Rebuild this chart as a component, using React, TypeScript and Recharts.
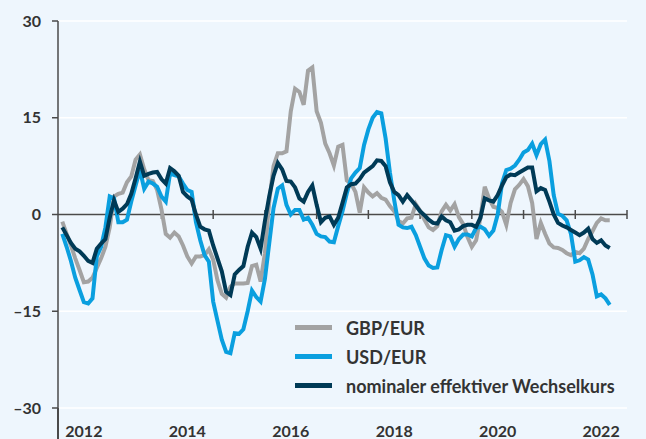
import { LineChart, Line, XAxis, YAxis, CartesianGrid, ReferenceLine, Legend } from "recharts";

// monthly changes in %, Jan 2012 - Aug 2022
const gbp = [
  -1.1, -3.0, -4.8, -6.8, -8.6, -10.5, -10.4, -9.8, -8.3, -6.8, -5.0, -2.0,
  2.8, 3.2, 3.4, 5.0, 5.9, 8.5, 9.3, 7.0, 5.3, 5.2, 3.8, 0.8,
  -3.0, -3.6, -2.8, -3.4, -4.8, -6.5, -7.6, -6.5, -6.5, -6.3, -5.4, -7.0,
  -10.2, -12.3, -12.9, -11.2, -10.7, -10.7, -10.7, -10.6, -8.0, -7.8, -10.4, -6.0,
  2.0, 7.5, 9.5, 9.5, 9.8, 16.0, 19.5, 19.0, 17.0, 22.3, 22.8, 16.0,
  14.2, 11.0, 9.5, 7.6, 10.5, 10.8, 5.3, 4.8, 3.5, 0.3, 4.2, 3.4,
  2.8, 3.3, 2.6, 2.3, 1.3, 0.5, -1.0, -1.4, -0.6, -0.5, 1.6, 0.6,
  -0.8, -2.0, -2.4, -1.8, 0.5, 1.5, 0.6, 1.6, -0.4, -1.5, -3.5, -5.0,
  -4.0, -0.5, 4.3, 2.5, 1.2, 1.0, 0.4, -1.6, 1.8, 3.9, 4.6, 5.5,
  4.4, 1.8, -3.8, -1.3, -3.0, -4.5, -5.1, -5.2, -5.5, -6.0, -6.3, -5.8,
  -6.0, -5.3, -3.8, -2.6, -1.3, -0.6, -0.9, -0.9,
];

const usd = [
  -3.0, -5.0, -7.2, -9.8, -11.7, -13.6, -13.8, -13.0, -6.5, -5.0, -2.0, 2.8,
  2.5, -1.2, -1.2, -0.8, 2.0, 4.5, 6.9, 4.0, 5.1, 4.8, 4.3, 2.8,
  2.0, 6.4, 6.1, 5.9, 4.8, 3.8, 3.5, -1.2, -4.0, -6.3, -7.3, -13.5,
  -16.5, -19.4, -21.3, -21.5, -18.4, -18.5, -17.8, -15.0, -11.8, -12.8, -13.5, -10.0,
  -4.5, 1.0, 4.0, 4.5, 1.5, 0.0, 0.7, 0.7, -0.8, -0.5, -1.6, -3.0,
  -3.4, -3.5, -4.2, -4.3, -1.8, 0.5, 3.3, 5.6, 6.5, 7.2, 10.8, 13.2,
  15.0, 15.9, 15.7, 11.8, 6.5, 2.2, -1.6, -2.0, -2.1, -1.9, -3.2, -5.0,
  -6.8, -7.9, -8.3, -8.2, -5.5, -3.2, -3.4, -5.0, -3.8, -3.1, -3.1, -3.4,
  -2.1, -1.9, -2.3, -3.3, -2.5, 0.0, 4.8, 6.9, 7.1, 7.6, 8.5, 9.6,
  10.0, 11.0, 9.2, 10.9, 11.6, 8.3, 3.0, 0.1, -0.2, -0.9, -3.0, -7.3,
  -7.1, -6.6, -7.0, -9.3, -12.7, -12.4, -13.0, -14.0,
];

const neer = [
  -2.0, -3.2, -4.4, -5.3, -5.7, -6.4, -7.2, -7.5, -5.3, -4.5, -3.8, -0.5,
  2.2, 0.4, 0.9, 1.6, 3.2, 5.6, 8.2, 6.0, 6.3, 6.5, 6.6, 5.5,
  4.8, 7.2, 6.7, 6.0, 3.5, 2.8, 2.3, 0.0, -1.9, -2.3, -2.5, -4.8,
  -6.8, -8.8, -12.0, -12.5, -9.3, -8.6, -8.0, -5.0, -2.8, -3.5, -5.3, -1.0,
  2.8, 6.0, 8.0, 7.0, 5.2, 5.1, 4.2, 2.5, 2.0, 3.5, 4.5, 1.5,
  -1.2, -0.5, -0.3, -1.6, -0.5, 1.8, 4.2, 4.7, 4.8, 5.5, 6.5, 7.0,
  7.5, 8.4, 8.3, 7.5, 5.0, 3.5, 3.0, 2.0, 3.0, 2.2, 1.4, 0.5,
  -0.1, -0.8, -1.3, -1.4, -0.3, -0.9, -1.2, -2.5, -2.3, -1.8, -1.6, -1.6,
  -1.9, -0.5, 2.5, 2.2, 2.0, 3.0, 4.5, 5.8, 6.2, 6.1, 6.5, 6.9,
  7.3, 7.3, 3.6, 4.1, 3.8, 2.0, 0.0, -1.3, -1.7, -2.0, -2.4, -2.8,
  -3.2, -2.8, -2.2, -3.8, -4.4, -4.0, -4.8, -5.2,
];

const START_YEAR = 2012;
const yearLabels = [2012, 2014, 2016, 2018, 2020, 2022];
const yearMarks = [2013, 2014, 2015, 2016, 2017, 2018, 2019, 2020, 2021, 2022, 2023];
const yTicks = [-30, -15, 0, 15, 30];

const SERIES = [
  { key: "gbp", name: "GBP/EUR", color: "#a3a3a3" },
  { key: "usd", name: "USD/EUR", color: "#0a9fdf" },
  { key: "neer", name: "nominaler effektiver Wechselkurs", color: "#003a56" },
];

const data = gbp.map((_, i) => ({
  t: START_YEAR + (i + 1) / 12,
  gbp: gbp[i],
  usd: usd[i],
  neer: neer[i],
}));

const FONT = "Lato, 'Noto Sans', sans-serif";
const TEXT = "#333333";
const AXIS = "#4a4a4a";
const BG = "#eef6fd";

function LegendBox() {
  return (
    <div style={{ fontFamily: FONT, fontWeight: 700, fontSize: 18, color: TEXT, whiteSpace: "nowrap" }}>
      {SERIES.map((s) => (
        <div key={s.key} style={{ display: "flex", alignItems: "center", height: 29 }}>
          <span style={{ width: 37, height: 5, background: s.color, marginRight: 14, display: "inline-block" }} />
          <span>{s.name}</span>
        </div>
      ))}
    </div>
  );
}

export default function App() {
  const tickStyle = { fontFamily: FONT, fontWeight: 700, fontSize: 16, fill: TEXT };
  return (
    <div style={{ position: "absolute", left: 0, top: 0, width: 646, height: 439, background: BG }}>
      <LineChart width={646} height={439} data={data} margin={{ top: 21, right: 19, bottom: 0, left: 0 }}>
        <CartesianGrid vertical={false} stroke="#ffffff" strokeWidth={1.5} />
        <XAxis
          dataKey="t"
          type="number"
          domain={[2012, 2023]}
          ticks={yearLabels.map((y) => y + 0.5)}
          tickFormatter={(v) => String(Math.floor(v))}
          axisLine={false}
          tickLine={false}
          tickSize={6}
          tickMargin={12}
          height={31}
          tick={tickStyle}
        />
        <YAxis
          domain={[-30, 30]}
          ticks={yTicks}
          tickFormatter={(v) => String(v).replace("-", "\u2013")}
          width={58}
          axisLine={{ stroke: AXIS, strokeWidth: 1.5 }}
          tickLine={{ stroke: AXIS, strokeWidth: 1.5 }}
          tickSize={6}
          tickMargin={11}
          tick={tickStyle}
        />
        <ReferenceLine y={0} stroke={AXIS} strokeWidth={1.5} />
        {yearMarks.map((yr) => (
          <ReferenceLine
            key={yr}
            segment={[{ x: yr, y: -0.7 }, { x: yr, y: 0.7 }]}
            stroke={AXIS}
            strokeWidth={1.5}
          />
        ))}
        {SERIES.map((s) => (
          <Line
            key={s.key}
            dataKey={s.key}
            name={s.name}
            stroke={s.color}
            strokeWidth={4}
            dot={false}
            isAnimationActive={false}
          />
        ))}
        <Legend
          layout="horizontal"
          verticalAlign="middle"
          align="center"
          content={<LegendBox />}
          wrapperStyle={{ left: 295, top: 313, width: "auto" }}
        />
      </LineChart>
      <div style={{ position: "absolute", left: 57.25, top: 408, width: 1.5, height: 31, background: AXIS }} />
    </div>
  );
}
